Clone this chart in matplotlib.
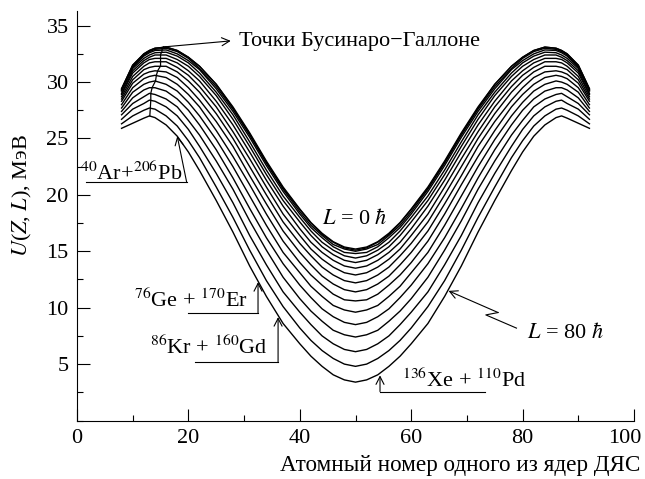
import numpy as np
import matplotlib
matplotlib.use("Agg")
import matplotlib.pyplot as plt
from matplotlib.ticker import MultipleLocator
from matplotlib.transforms import ScaledTranslation

# Atomic number of one DNS nucleus, left half of the curve (curves are symmetric about Z = 50)
z_half = [8, 10, 12, 13, 14, 16, 18, 20, 22, 25, 28, 31, 34, 37, 40, 42, 44, 46, 48, 50]

# U(Z, L) in MeV, one list per angular momentum L (in hbar)
u_L0 = [29.4, 31.5, 32.5, 32.8, 33.0, 33.1, 32.8, 32.2, 31.4, 29.8, 27.8, 25.5, 23.0, 20.7, 18.75, 17.55, 16.6, 15.85, 15.38, 15.2]
u_L5 = [29.4, 31.5, 32.5, 32.8, 33.0, 33.1, 32.8, 32.2, 31.4, 29.8, 27.7, 25.4, 22.9, 20.6, 18.7, 17.5, 16.5, 15.8, 15.3, 15.1]
u_L10 = [29.3, 31.4, 32.4, 32.7, 32.9, 33.0, 32.7, 32.1, 31.2, 29.6, 27.6, 25.3, 22.8, 20.5, 18.5, 17.3, 16.4, 15.6, 15.2, 15.0]
u_L15 = [29.3, 31.3, 32.3, 32.6, 32.8, 32.85, 32.5, 31.9, 31.1, 29.4, 27.4, 25.1, 22.6, 20.3, 18.3, 17.1, 16.2, 15.4, 14.9, 14.8]
u_L20 = [29.2, 31.2, 32.1, 32.4, 32.6, 32.65, 32.3, 31.7, 30.8, 29.1, 27.1, 24.7, 22.2, 19.9, 18.0, 16.8, 15.8, 15.1, 14.6, 14.4]
u_L25 = [29.0, 31.0, 31.9, 32.2, 32.4, 32.4, 32.0, 31.4, 30.5, 28.8, 26.7, 24.3, 21.8, 19.5, 17.6, 16.4, 15.4, 14.7, 14.2, 14.0]
u_L30 = [28.9, 30.8, 31.7, 32.0, 32.1, 32.1, 31.7, 31.0, 30.1, 28.3, 26.2, 23.8, 21.3, 19.0, 17.0, 15.8, 14.9, 14.2, 13.7, 13.5]
u_L35 = [28.7, 30.5, 31.4, 31.7, 31.8, 31.8, 31.3, 30.6, 29.6, 27.8, 25.6, 23.2, 20.7, 18.3, 16.4, 15.2, 14.3, 13.6, 13.1, 12.9]
u_L40 = [28.5, 30.2, 31.1, 31.3, 31.4, 31.4, 30.9, 30.1, 29.1, 27.2, 25.0, 22.5, 20.0, 17.6, 15.7, 14.6, 13.6, 12.9, 12.4, 12.2]
u_L45 = [28.3, 29.9, 30.7, 30.9, 31.0, 30.9, 30.4, 29.5, 28.4, 26.5, 24.3, 21.7, 19.2, 16.8, 14.9, 13.8, 12.8, 12.1, 11.6, 11.4]
u_L50 = [28.0, 29.5, 30.3, 30.5, 30.6, 30.4, 29.8, 28.9, 27.8, 25.7, 23.4, 20.9, 18.3, 15.9, 14.0, 12.9, 12.0, 11.2, 10.7, 10.6]
u_L55 = [27.7, 29.1, 29.8, 30.0, 30.1, 29.8, 29.2, 28.2, 27.0, 24.9, 22.5, 19.9, 17.3, 14.9, 13.1, 11.9, 11.0, 10.2, 9.8, 9.6]
u_L60 = [27.4, 28.6, 29.3, 29.5, 29.5, 29.2, 28.5, 27.5, 26.2, 24.0, 21.5, 18.8, 16.2, 13.9, 12.0, 10.9, 9.9, 9.2, 8.7, 8.5]
u_L65 = [27.1, 28.1, 28.7, 29.0, 28.9, 28.5, 27.8, 26.6, 25.3, 23.0, 20.5, 17.7, 15.1, 12.7, 10.8, 9.7, 8.8, 8.0, 7.6, 7.4]
u_L70 = [26.7, 27.6, 28.1, 28.4, 28.3, 27.8, 27.0, 25.8, 24.3, 21.9, 19.3, 16.4, 13.8, 11.4, 9.6, 8.5, 7.5, 6.8, 6.3, 6.1]
u_L75 = [26.3, 27.0, 27.5, 27.7, 27.6, 27.0, 26.1, 24.8, 23.3, 20.7, 18.0, 15.1, 12.4, 10.1, 8.2, 7.1, 6.2, 5.5, 5.0, 4.8]
u_L80 = [25.9, 26.35, 26.8, 27.0, 26.85, 26.2, 25.2, 23.8, 22.15, 19.5, 16.7, 13.7, 11.0, 8.6, 6.8, 5.7, 4.8, 4.05, 3.6, 3.4]

half_curves = [u_L0, u_L5, u_L10, u_L15, u_L20, u_L25, u_L30, u_L35, u_L40,
               u_L45, u_L50, u_L55, u_L60, u_L65, u_L70, u_L75, u_L80]

x_ticks = [0, 20, 40, 60, 80, 100]
y_ticks = [5, 10, 15, 20, 25, 30, 35]


def full_row(half):
    # right half is the mirror image (Z <-> 100 - Z)
    return half + half[-2::-1]


def main():
    plt.rcParams["font.family"] = ["Liberation Serif", "DejaVu Serif"]
    plt.rcParams["mathtext.fontset"] = "stix"
    plt.rcParams["font.size"] = 16

    z_nodes = z_half + [100 - z for z in z_half[-2::-1]]
    curves = [np.array(full_row(h)) for h in half_curves]

    fig = plt.figure(figsize=(6.45, 4.79), dpi=100)
    ax = fig.add_axes([77 / 645, 1 - 420.5 / 479, 557 / 645, 409.5 / 479])

    for u in curves:
        ax.plot(z_nodes, u, color="black", lw=1.0)

    # Businaro-Gallone points: vertex of a parabola through the left maximum
    n_half = len(z_half)
    bg_z, bg_u = [], []
    for u in curves:
        i = int(np.argmax(u[:n_half]))
        p = np.polyfit(z_nodes[i - 1:i + 2], u[i - 1:i + 2], 2)
        zv = -p[1] / (2 * p[0])
        bg_z.append(zv)
        bg_u.append(np.polyval(p, zv))
    ax.plot(bg_z, bg_u, color="black", lw=0.9)

    arrow = dict(arrowstyle="->,head_length=0.35,head_width=0.18", lw=0.8,
                 color="black", shrinkA=0, shrinkB=0)

    ax.annotate("", xy=(27.6, 33.65), xytext=(bg_z[0], bg_u[0]), arrowprops=arrow)
    ax.text(29.0, 33.6, "Точки Бусинаро\u2212Галлоне", ha="left", va="center")

    ax.text(0.5, 21.35, r"$^{40}$Ar+$^{206}$Pb", ha="left", va="baseline")
    ax.plot([1.6, 19.7], [21.1, 21.1], color="black", lw=0.8)
    ax.annotate("", xy=(18.0, 25.2), xytext=(19.7, 21.1), arrowprops=arrow)

    ax.text(30.7, 10.04, r"$^{76}$Ge + $^{170}$Er", ha="right", va="baseline")
    ax.plot([19.9, 32.5], [9.49, 9.49], color="black", lw=0.8)
    ax.annotate("", xy=(32.5, 12.26), xytext=(32.5, 9.49), arrowprops=arrow)

    ax.text(34.3, 5.88, r"$^{86}$Kr + $^{160}$Gd", ha="right", va="baseline")
    ax.plot([21.2, 36.1], [5.17, 5.17], color="black", lw=0.8)
    ax.annotate("", xy=(36.1, 9.16), xytext=(36.1, 5.17), arrowprops=arrow)

    ax.text(58.3, 2.95, r"$^{136}$Xe + $^{110}$Pd", ha="left", va="baseline")
    ax.plot([54.4, 73.2], [2.57, 2.57], color="black", lw=0.8)
    ax.annotate("", xy=(54.4, 4.0), xytext=(54.4, 2.57), arrowprops=arrow)

    ax.text(44.0, 17.9, r"$L$ = 0 $\hbar$", ha="left", va="center")
    ax.text(80.8, 7.8, r"$L$ = 80 $\hbar$", ha="left", va="center")
    ax.plot([78.9, 73.4, 75.6], [8.19, 9.36, 9.57], color="black", lw=0.8)
    ax.annotate("", xy=(66.7, 11.49), xytext=(75.6, 9.57), arrowprops=arrow)

    ax.set_xlim(0, 100)
    ax.set_ylim(0, 36.3)
    ax.spines["top"].set_visible(False)
    ax.spines["right"].set_visible(False)
    ax.set_xticks(x_ticks)
    ax.xaxis.set_minor_locator(MultipleLocator(10))
    ax.set_yticks(y_ticks)
    ax.set_yticks([0, 2.5, 7.5, 12.5, 17.5, 22.5, 27.5, 32.5], minor=True)
    ax.tick_params(which="both", direction="in", width=0.8)
    ax.tick_params(which="major", length=9, pad=6)
    ax.tick_params(which="minor", length=4.5)

    # keep "100" inside the picture, as in the reference
    last = ax.xaxis.get_major_ticks()[-1].label1
    last.set_transform(last.get_transform() + ScaledTranslation(-0.09, 0, fig.dpi_scale_trans))

    ax.set_xlabel("Атомный номер одного из ядер ДЯС", ha="right", fontsize=16.7)
    ax.xaxis.set_label_coords(1.011, -0.085)
    ax.set_ylabel(r"$U$($Z$, $L$), МэВ")
    ax.yaxis.set_label_coords(-0.078, 0.55)

    fig.savefig("out.png", dpi=100)


if __name__ == "__main__":
    main()
